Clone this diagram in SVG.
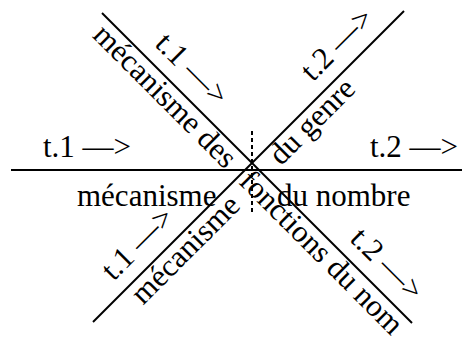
<svg xmlns="http://www.w3.org/2000/svg" width="462" height="337" viewBox="0 0 462 337">
<style>
.ln{stroke:#000;stroke-width:2;fill:none}
.dash{stroke:#000;stroke-width:2;stroke-dasharray:4 3;fill:none}
text{font-family:"Liberation Serif","Times New Roman",serif;font-size:31px;fill:#000}
</style>
<g id="connectors">
<path class="ln" d="M11 170H462"/>
<path class="ln" d="M102 13L412 323"/>
<path class="ln" d="M93 322L404 11"/>
<path class="dash" d="M252 131V212"/>
</g>
<g id="horizontal-labels">
<text x="43" y="157">t.1 —&gt;</text>
<text x="370" y="157">t.2 —&gt;</text>
<text x="77" y="206">mécanisme</text>
<text x="277" y="206">du nombre</text>
</g>
<g id="diag-down" transform="translate(252,163) rotate(45)">
<text x="-153" y="-14">t.1 —&gt;</text>
<text x="123" y="-14">t.2 —&gt;</text>
<text x="-203" y="24">mécanisme des</text>
<text x="4" y="24">fonctions du nom</text>
</g>
<g id="diag-up" transform="translate(252,163) rotate(-45)">
<text x="-182" y="-14">t.1 —&gt;</text>
<text x="100" y="-14">t.2 —&gt;</text>
<text x="-178" y="24">mécanisme</text>
<text x="18" y="23">du genre</text>
</g>
</svg>
